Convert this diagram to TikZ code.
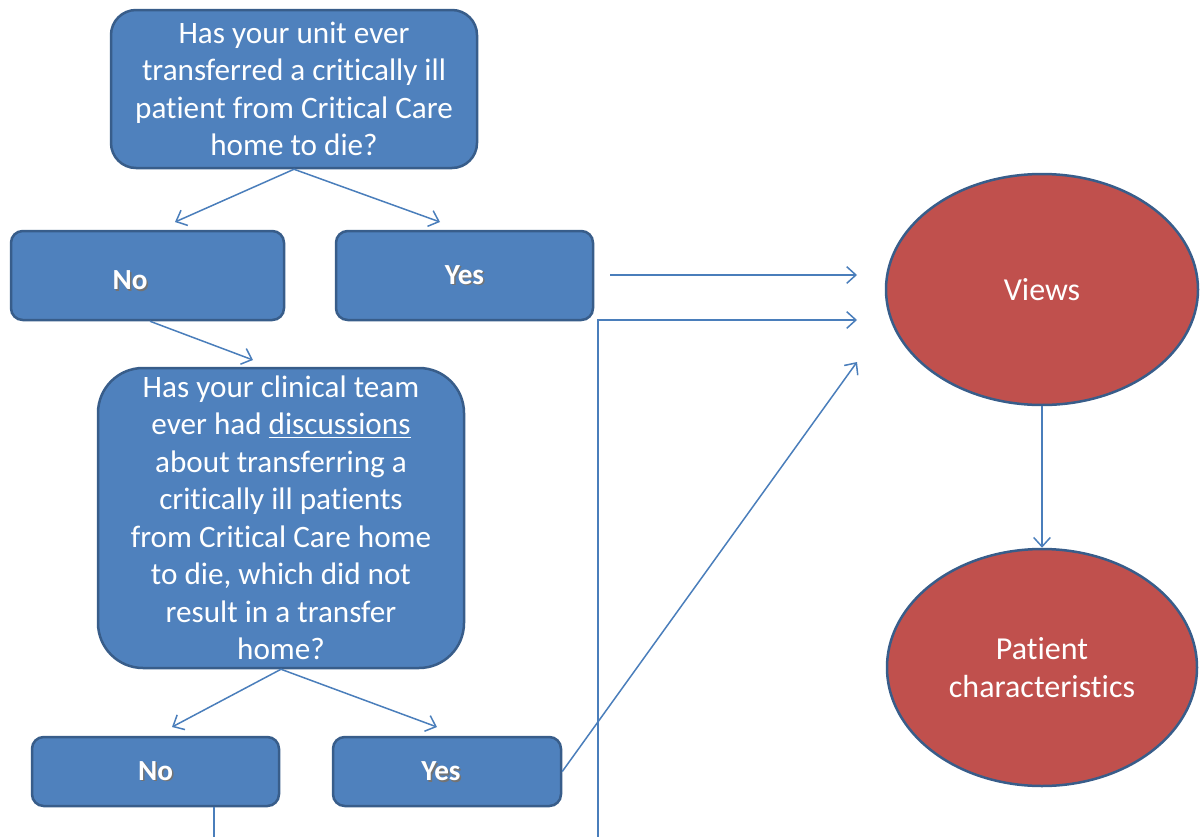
\documentclass[tikz,border=0pt]{standalone}
\usepackage{fontspec}
\setmainfont{Carlito}[Ligatures=NoCommon]
\usetikzlibrary{arrows.meta,shapes.geometric}
\definecolor{boxfill}{HTML}{4F81BD}
\definecolor{boxline}{HTML}{385D8A}
\definecolor{ellfill}{HTML}{C0504D}
\definecolor{conn}{HTML}{4A7EBB}
\newcommand\shadowtxt[1]{\leavevmode\rlap{\kern0.9pt\raisebox{-0.9pt}{\color{black!55}#1}}{\color{white}#1}}
\tikzset{
  qbox/.style={draw=boxline, line width=1.5pt, fill=boxfill, text=white, align=center,
    font=\fontsize{18.7}{22.5}\selectfont, inner sep=0pt},
  abox/.style={draw=boxline, line width=1.5pt, fill=boxfill, rounded corners=7pt,
    font=\bfseries\fontsize{17.5}{20}\selectfont, inner sep=0pt},
  oval/.style={ellipse, draw=boxline, line width=1.5pt, fill=ellfill, text=white, align=center,
    font=\fontsize{19.2}{22.5}\selectfont, inner sep=0pt},
  conline/.style={draw=conn, line width=0.9pt},
  conarrow/.style={conline, -{Straight Barb[length=5.5pt,width=10pt,line width=0.9pt]}},
}
\begin{document}
\begin{tikzpicture}[x=0.6pt,y=-0.6pt]
\useasboundingbox (0,0) rectangle (1200,837);
% question boxes
\node[qbox, rounded corners=15pt, minimum width=219.6pt, minimum height=94.8pt] (q1) at (294,89)
  {Has your unit ever\\transferred a critically ill\\patient from Critical Care\\home to die?};
\node[qbox, rounded corners=27pt, minimum width=219.6pt, minimum height=180pt] (q2) at (281,518)
  {Has your clinical team\\ever had \underline{discussions}\\about transferring a\\critically ill patients\\from Critical Care home\\to die, which did not\\result in a transfer\\home?};
% answer boxes
\node[abox, minimum width=163.8pt, minimum height=53.4pt] (no1) at (147.5,275.5) {};
\node at (130,281) {\bfseries\fontsize{17.5}{20}\selectfont\shadowtxt{No}};
\node[abox, minimum width=154.2pt, minimum height=53.4pt] (yes1) at (464.5,275.5) {\shadowtxt{Yes}};
\node[abox, minimum width=148.2pt, minimum height=41.4pt] (no2) at (155.5,771.5) {\shadowtxt{No}};
\node[abox, minimum width=136.8pt, minimum height=41.4pt] (yes2) at (447,771.5) {};
\node at (441,772) {\bfseries\fontsize{17.5}{20}\selectfont\shadowtxt{Yes}};
% ellipses
\node[oval, minimum width=187.2pt, minimum height=138.6pt] (views) at (1042,289.5) {Views};
\node[oval, minimum width=186pt, minimum height=142.2pt] (pat) at (1042,667.5) {Patient\\characteristics};
% free ends
\coordinate (a1) at (175,222);
\coordinate (a2) at (440,222);
\coordinate (a3) at (253,360);
\coordinate (a4) at (172,727);
\coordinate (a5) at (437,727);
\coordinate (b1) at (610,275);
\coordinate (b2) at (857,275);
\coordinate (c0) at (598,837);
\coordinate (c1) at (598,320);
\coordinate (c2) at (857,320);
\coordinate (d2) at (857,362);
\coordinate (e1) at (214,837);
% connectors
\draw[conarrow] (q1.south) -- (a1);
\draw[conarrow] (q1.south) -- (a2);
\draw[conarrow] (no1.south) ++(2.5,0) coordinate (n1s) -- (a3);
\draw[conarrow] (q2.south) -- (a4);
\draw[conarrow] (q2.south) -- (a5);
\draw[conarrow] (b1) -- (b2);
\draw[conarrow] (c0) -- (c1) -- (c2);
\draw[conarrow] (yes2.east) -- (d2);
\draw[conline] (no2.south -| e1) -- (e1);
\draw[conarrow] (views.south) -- (pat.north);
\end{tikzpicture}
\end{document}
